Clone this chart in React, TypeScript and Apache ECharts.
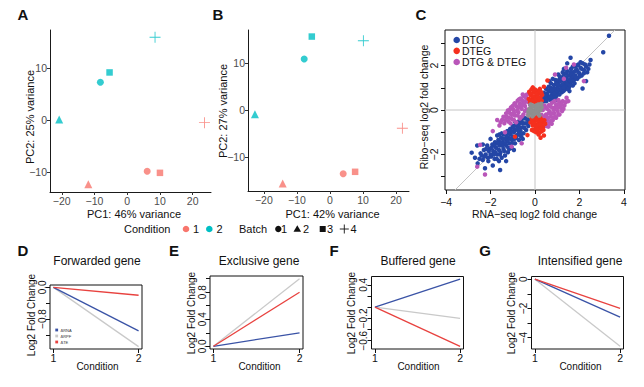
import React, { useEffect, useRef } from 'react';
import * as echarts from 'echarts';

const FONT = '"Liberation Sans", Arial, Helvetica, sans-serif';

// ---------- PCA panels (A: RNA-seq, B: Ribo-seq) ----------
const conditionColors = ['#F8766D', '#00BFC4'];
const conditionLabels = ['1', '2'];
const batchLabels = ['1', '2', '3', '4'];
const PLUS = 'path://M0,4.6H10V5.4H0ZM4.6,0H5.4V10H4.6Z';
const batchSymbols = ['circle', 'triangle', 'rect', PLUS];
const batchSizes = [7, 8, 6.5, 11];

// PC1 / PC2 scores, listed in batch order 1..4
const rnaCond1 = [[6.1, -9.9], [-11.9, -12.4], [10.0, -10.2], [23.6, -0.5]];
const rnaCond2 = [[-8.2, 7.3], [-20.8, 0.1], [-5.4, 9.2], [8.5, 16.0]];
const riboCond1 = [[4.0, -13.6], [-14.3, -15.7], [7.6, -13.2], [21.9, -3.9]];
const riboCond2 = [[-7.8, 10.9], [-22.7, -0.9], [-5.5, 15.7], [10.1, 14.8]];

const pcaXTicks = [-20, -10, 0, 10, 20];
const pcaYTicks = [-10, 0, 10];

// ---------- Panel C: RNA-seq vs Ribo-seq fold changes ----------
const cXTicks = [-4, -2, 0, 2, 4];
const cYTicks = [-3, -2, -1, 0, 1, 2, 3];
const cYLabels = [-2, 0, 2];
const diagonal = [[-3.6, -3.6], [3.6, 3.6]];
const zeroVertical = [[0, -3.6], [0, 3.6]];
const zeroHorizontal = [[-4.05, 0], [4.05, 0]];

const dtgPoints = [
  [0.25, 0.45], [0.3, 0.62], [0.35, 0.38], [0.4, 0.78], [0.45, 0.55], [0.5, 0.95], [0.52, 0.4], [0.55, 0.72],
  [0.6, 0.58], [0.62, 1.05], [0.65, 0.85], [0.7, 0.45], [0.72, 1.2], [0.75, 0.68], [0.8, 0.95], [0.82, 0.55],
  [0.85, 1.12], [0.9, 0.8], [0.92, 1.35], [0.95, 0.62], [1.0, 1.0], [1.02, 0.75], [1.05, 1.25], [1.1, 0.9],
  [1.12, 1.5], [1.15, 1.1], [1.2, 0.8], [1.22, 1.35], [1.25, 1.0], [1.3, 1.6], [1.32, 1.2], [1.35, 0.92],
  [1.4, 1.45], [1.42, 1.1], [1.45, 1.75], [1.5, 1.3], [1.52, 1.0], [1.55, 1.55], [1.6, 1.25], [1.62, 1.85],
  [1.65, 1.45], [1.7, 1.1], [1.72, 1.7], [1.75, 1.35], [1.8, 1.95], [1.82, 1.55], [1.88, 1.8], [1.9, 1.4],
  [1.95, 2.05], [2.0, 1.65], [2.05, 1.9], [2.1, 1.55], [2.15, 2.1], [2.2, 1.8], [2.3, 1.95], [2.35, 1.7],
  [2.45, 2.05], [1.6, 2.35], [1.3, 1.85], [1.05, 1.6], [0.8, 1.4], [2.14, 0.97], [2.3, 1.3], [3.33, 3.34],
  [3.07, 2.6], [1.45, 2.1], [0.98, 0.45], [1.55, 0.85], [0.65, 1.3], [1.25, 1.7],
  [0.35, 0.55], [0.45, 0.4], [0.5, 0.65], [0.55, 0.5], [0.6, 0.85], [0.68, 0.6], [0.7, 1.0], [0.78, 0.8],
  [0.8, 0.6], [0.88, 0.95], [0.9, 0.65], [0.95, 1.2], [0.98, 0.85], [1.05, 0.95], [1.08, 1.35], [1.1, 0.7],
  [1.15, 1.3], [1.18, 0.95], [1.2, 1.45], [1.25, 1.15], [1.28, 0.85], [1.35, 1.35], [1.38, 1.05], [1.4, 1.65],
  [1.45, 1.2], [1.48, 0.95], [1.5, 1.55], [1.55, 1.35], [1.58, 1.1], [1.6, 1.7], [1.65, 1.6], [1.68, 1.3],
  [1.7, 1.95], [1.75, 1.5], [1.78, 1.2], [1.8, 1.75], [1.85, 1.45], [1.9, 2.0], [1.95, 1.7], [2.0, 1.5],
  [2.05, 2.15], [2.1, 1.85], [2.2, 1.65], [2.25, 2.05], [2.4, 1.85], [2.5, 2.25], [1.0, 1.15], [0.85, 0.75],
  [0.75, 0.9], [1.3, 1.0],
  [-0.25, -0.5], [-0.3, -0.72], [-0.35, -0.4], [-0.4, -0.9], [-0.45, -0.6], [-0.5, -0.35], [-0.52, -1.05],
  [-0.55, -0.78], [-0.6, -0.5], [-0.62, -1.2], [-0.65, -0.95], [-0.7, -0.62], [-0.72, -1.35], [-0.75, -1.08],
  [-0.8, -0.75], [-0.85, -1.25], [-0.88, -0.55], [-0.9, -1.5], [-0.95, -1.0], [-1.0, -0.72], [-1.02, -1.35],
  [-1.05, -1.7], [-1.1, -1.1], [-1.12, -0.85], [-1.15, -1.5], [-1.2, -1.25], [-1.22, -1.9], [-1.25, -0.95],
  [-1.3, -1.6], [-1.32, -1.3], [-1.35, -2.05], [-1.4, -1.1], [-1.42, -1.75], [-1.45, -1.45], [-1.5, -2.15],
  [-1.52, -1.25], [-1.55, -1.9], [-1.6, -1.6], [-1.62, -2.3], [-1.65, -1.35], [-1.7, -2.0], [-1.75, -1.7],
  [-1.8, -1.45], [-1.82, -2.2], [-1.88, -1.85], [-1.92, -1.55], [-1.98, -2.1], [-2.05, -1.75], [-2.1, -2.3],
  [-2.15, -1.6], [-2.22, -2.0], [-2.3, -1.8], [-2.35, -2.25], [-2.45, -1.95], [-2.85, -1.92], [-2.58, -2.4],
  [-2.25, -2.62], [-1.57, -2.7], [-2.6, -1.6], [-1.3, -2.3], [-0.95, -1.8], [-2.0, -1.3], [-1.7, -1.15],
  [-2.7, -2.15], [-1.9, -2.5],
  [-0.3, -0.45], [-0.38, -0.6], [-0.42, -0.38], [-0.48, -0.8], [-0.55, -0.6], [-0.6, -0.35], [-0.65, -0.8],
  [-0.68, -1.1], [-0.72, -0.5], [-0.78, -0.9], [-0.82, -1.15], [-0.85, -0.65], [-0.9, -0.9], [-0.92, -1.3],
  [-0.98, -0.8], [-1.0, -1.2], [-1.05, -1.5], [-1.08, -0.95], [-1.12, -1.3], [-1.18, -1.05], [-1.2, -1.7],
  [-1.25, -1.4], [-1.28, -1.15], [-1.35, -1.5], [-1.38, -1.85], [-1.42, -1.3], [-1.48, -1.6], [-1.5, -1.05],
  [-1.55, -1.45], [-1.58, -2.0], [-1.62, -1.8], [-1.68, -1.5], [-1.72, -2.2], [-1.78, -1.9], [-1.82, -1.6],
  [-1.85, -2.0], [-1.95, -1.7], [-2.0, -2.0], [-2.08, -1.85], [-2.12, -2.15], [-2.2, -1.75], [-2.28, -2.1],
  [-2.4, -2.05], [-2.5, -2.2], [-0.55, -1.3], [-1.6, -1.1], [-2.35, -1.55], [-1.15, -1.75],
];

const dtegPoints = [
  [-0.22, 0.35], [-0.12, 0.5], [-0.02, 0.36], [0.08, 0.46], [0.18, 0.38], [-0.18, 0.65], [-0.06, 0.78],
  [0.04, 0.62], [0.14, 0.72], [0.24, 0.56], [0.3, 0.42], [-0.28, 0.5], [0.0, 0.92], [-0.1, 1.02], [0.1, 0.86],
  [0.32, 0.68], [0.56, 1.33], [0.4, 1.05], [-0.26, 0.82], [-0.16, 0.92], [0.22, 0.95], [-0.05, 0.45],
  [-0.2, 0.45], [-0.08, 0.6], [0.02, 0.48], [0.12, 0.58], [0.2, 0.48], [-0.22, 0.75], [0.06, 0.74],
  [0.2, 0.82], [-0.04, 0.88], [0.28, 0.8], [-0.12, 0.4], [0.12, 0.35],
  [-0.16, -0.36], [-0.05, -0.5], [0.05, -0.32], [0.15, -0.46], [0.25, -0.36], [0.32, -0.56], [-0.1, -0.7],
  [0.0, -0.86], [0.1, -0.66], [0.2, -0.8], [0.36, -0.76], [0.42, -0.46], [-0.2, -0.56], [0.05, -1.0],
  [0.16, -1.1], [0.3, -0.96], [-0.14, -0.9], [0.46, -0.62], [-0.34, -1.13], [-0.9, -1.2], [0.25, -1.25],
  [0.4, -1.15], [-0.02, -0.62], [0.12, -0.5],
  [-0.12, -0.45], [-0.02, -0.38], [0.08, -0.4], [0.18, -0.55], [0.28, -0.45], [-0.06, -0.6], [0.05, -0.75],
  [0.15, -0.68], [0.25, -0.65], [0.3, -0.82], [-0.05, -0.95], [0.1, -0.9], [0.22, -1.0], [0.38, -0.9],
];

const bothPoints = [
  [-0.22, 0.22], [-0.32, 0.36], [-0.4, 0.55], [-0.45, 0.18], [-0.55, 0.4], [-0.6, 0.05], [-0.68, 0.28],
  [-0.75, -0.1], [-0.82, 0.15], [-0.9, -0.25], [-0.98, 0.02], [-1.05, -0.4], [-1.12, -0.15], [-1.2, -0.52],
  [-1.28, -0.3], [-1.38, -0.6], [-1.48, -0.45], [-0.36, 0.7], [-0.5, 0.62], [-0.65, 0.52], [-0.78, 0.42],
  [-0.92, 0.3], [-1.08, 0.12], [-1.22, -0.02], [-1.6, -0.7], [-1.7, -0.45], [-0.38, 0.02], [-0.52, -0.2],
  [-0.68, -0.38], [-0.85, -0.55], [-0.3, -0.18],
  [-0.25, 0.4], [-0.42, 0.4], [-0.5, 0.3], [-0.6, 0.45], [-0.62, 0.2], [-0.72, 0.12], [-0.72, 0.48],
  [-0.8, -0.02], [-0.88, 0.28], [-0.95, -0.12], [-1.0, 0.18], [-1.05, -0.22], [-1.15, 0.0], [-1.18, -0.35],
  [-1.3, -0.15], [-1.32, -0.45], [-1.42, -0.3], [-1.55, -0.55], [-0.45, -0.05], [-0.6, -0.3], [-0.78, -0.25],
  [-0.95, -0.45], [-1.1, -0.6], [-0.55, 0.7],
  [0.22, -0.5], [0.3, -0.22], [0.4, -0.6], [0.5, -0.2], [0.55, -0.45], [0.65, -0.05], [0.72, -0.3],
  [0.8, 0.1], [0.86, -0.15], [0.95, 0.25], [1.02, -0.05], [1.1, 0.35], [1.16, 0.1], [1.25, 0.4], [1.32, 0.2],
  [0.36, -0.78], [0.52, -0.72], [0.66, -0.6], [0.8, -0.45], [0.95, -0.35], [1.1, -0.2], [1.22, -0.05],
  [0.35, 0.0], [0.48, 0.12], [0.62, 0.22], [0.76, 0.32], [1.42, 0.55],
  [0.25, -0.35], [0.38, -0.45], [0.45, -0.3], [0.48, -0.55], [0.6, -0.35], [0.62, -0.15], [0.7, -0.5],
  [0.75, -0.15], [0.85, 0.0], [0.9, -0.3], [0.92, 0.12], [1.0, 0.1], [1.05, -0.2], [1.12, 0.22], [1.2, 0.25],
  [1.28, 0.05], [1.38, 0.35], [1.5, 0.4], [0.42, 0.2], [0.55, 0.05], [0.7, 0.15], [0.88, 0.4], [1.05, 0.45],
  [0.6, -0.75], [0.75, -0.62],
  [-2.25, -2.9], [-2.47, -1.57], [-1.05, -1.65], [-1.9, -0.95], [-2.6, -2.55], [1.4, 1.9], [2.2, 1.3],
  [1.75, 2.05], [-0.6, -1.5], [1.3, 1.4], [0.9, 1.6], [-1.35, -1.0],
];

const unchangedPoints = [
  [0, 0], [0.1, 0.05], [-0.1, -0.05], [0.15, -0.1], [-0.15, 0.1], [0.05, 0.2], [-0.05, -0.2], [0.2, 0.15],
  [-0.2, -0.15], [0.25, 0.0], [-0.25, 0.05], [0.0, 0.15], [0.1, -0.15], [-0.1, 0.2], [0.28, 0.28],
  [-0.3, -0.25], [0.2, -0.25], [-0.2, 0.25], [0.05, -0.05], [0.15, 0.25], [-0.12, -0.28], [0.3, 0.12],
  [-0.3, -0.08], [0.08, 0.1], [-0.08, -0.1], [0.18, 0.05], [-0.18, -0.05], [0.12, 0.2],
];

const cGroups = ['DTG', 'DTEG', 'DTG & DTEG'];
const cColors = ['#2446a6', '#f5301e', '#b956b9', '#8f8f8f'];

// ---------- Panels D-G: gene regulation schematics ----------
const geneTitles = ['Forwarded gene', 'Exclusive gene', 'Buffered gene', 'Intensified gene'];
const conditionSteps = [1, 2];
const deltaRNA = [-1.1, 0.2, 0.5, -2.6];
const deltaRPF = [-1.5, 1.0, -0.2, -4.6];
const deltaTE = [-0.2, 0.8, -0.7, -2.0];
const deltaNames = ['ΔRNA', 'ΔRPF', 'ΔTE'];
const deltaColors = ['#3a53a6', '#c9c9c9', '#e8423f'];
const geneYTicks = [
  [-1.2, -0.8, -0.4, 0],
  [0, 0.2, 0.4, 0.6, 0.8, 1.0],
  [-0.6, -0.4, -0.2, 0, 0.2, 0.4],
  [-4, -3, -2, -1, 0],
];
const geneYLabels = [[-0.8, 0], [0, 0.4, 0.8], [-0.6, -0.2, 0.4], [-4, -2, 0]];
const geneYDigits = [1, 1, 1, 0];

const minus = (s: string) => s.replace('-', '\u2212');

function buildOption() {
  const boxed = { show: true, borderColor: '#111', borderWidth: 1, backgroundColor: 'transparent' };
  const grids: any[] = [
    { left: 50, top: 30, width: 161, height: 162 },
    { left: 248, top: 30, width: 161, height: 161 },
    { left: 445, top: 30, width: 180, height: 160, ...boxed },
    { left: 50, top: 285, width: 92, height: 64, ...boxed },
    { left: 210, top: 276, width: 93, height: 73, ...boxed },
    { left: 371.5, top: 276.5, width: 92, height: 72.5, ...boxed },
    { left: 531.5, top: 276.5, width: 92, height: 72.5, ...boxed },
  ];

  const pcaAxis = (gridIndex: number, min: number, max: number, ticks: number[]) => ({
    type: 'value', gridIndex, min, max,
    axisLine: { show: true, onZero: false, lineStyle: { color: '#1a1a1a', width: 1 } },
    axisTick: { show: true, length: 3, customValues: ticks, lineStyle: { color: '#333' } },
    axisLabel: {
      customValues: ticks, color: '#4d4d4d', fontSize: 10.5, fontFamily: FONT, margin: 3,
      formatter: (v: number) => minus(String(v)),
    },
    splitLine: { show: false },
  });

  const boxAxis = (gridIndex: number, min: number, max: number, ticks: number[], labels: number[],
    fmt: (v: number) => string, rotate: number, margin: number, size: number) => ({
    type: 'value', gridIndex, min, max,
    axisLine: { show: false, onZero: false },
    axisTick: { show: true, length: 4, customValues: ticks, lineStyle: { color: '#111' } },
    axisLabel: { customValues: labels, color: '#111', fontSize: size, fontFamily: FONT, margin, rotate, formatter: fmt },
    splitLine: { show: false },
  });

  const xAxes: any[] = [
    pcaAxis(0, -23.6, 25.6, pcaXTicks),
    pcaAxis(1, -24.8, 23.9, pcaXTicks),
    boxAxis(2, -4.05, 4.05, cXTicks, cXTicks, (v) => minus(String(v)), 0, 6, 10.5),
  ];
  const yAxes: any[] = [
    pcaAxis(0, -13.9, 17.4, pcaYTicks),
    pcaAxis(1, -17.3, 17.1, pcaYTicks),
    boxAxis(2, -3.6, 3.6, cYTicks, cYLabels, (v) => minus(String(v)), 90, 6, 10.5),
  ];

  geneTitles.forEach((_, i) => {
    const all = [0, deltaRNA[i], deltaRPF[i], deltaTE[i]];
    const lo = Math.min(...all);
    const hi = Math.max(...all);
    const pad = (hi - lo) * 0.04;
    xAxes.push(boxAxis(3 + i, 0.96, 2.04, conditionSteps, conditionSteps, (v) => String(v), 0, 3, 10.5));
    yAxes.push(boxAxis(3 + i, lo - pad, hi + pad, geneYTicks[i], geneYLabels[i],
      (v) => minus(v.toFixed(geneYDigits[i])), 90, 3, 10));
  });

  const pcaSeries = (idx: number, cond: number[][], color: string) => ({
    type: 'scatter', xAxisIndex: idx, yAxisIndex: idx,
    itemStyle: { color },
    data: cond.map((p, b) => ({ value: p, symbol: batchSymbols[b], symbolSize: batchSizes[b] })),
  });

  const scatterC = (name: string, pts: number[][], color: string) => ({
    name, type: 'scatter', xAxisIndex: 2, yAxisIndex: 2, symbolSize: 4.5, z: 3,
    itemStyle: { color, opacity: 1 }, data: pts,
  });

  const guideC = (pts: number[][]) => ({
    type: 'line', xAxisIndex: 2, yAxisIndex: 2, data: pts, symbol: 'none', z: 1, silent: true,
    lineStyle: { color: '#c4c4c4', width: 1 },
  });

  const series: any[] = [
    pcaSeries(0, rnaCond1, conditionColors[0]),
    pcaSeries(0, rnaCond2, conditionColors[1]),
    pcaSeries(1, riboCond1, conditionColors[0]),
    pcaSeries(1, riboCond2, conditionColors[1]),
    guideC(diagonal),
    guideC(zeroVertical),
    guideC(zeroHorizontal),
    scatterC(cGroups[0], dtgPoints, cColors[0]),
    scatterC(cGroups[2], bothPoints, cColors[2]),
    scatterC(cGroups[1], dtegPoints, cColors[1]),
    scatterC('unchanged', unchangedPoints, cColors[3]),
  ];

  // draw RPF first so the RNA and TE lines sit on top
  const order = [1, 0, 2];
  geneTitles.forEach((_, i) => {
    const ends = [deltaRNA[i], deltaRPF[i], deltaTE[i]];
    order.forEach((k) => {
      series.push({
        type: 'line', xAxisIndex: 3 + i, yAxisIndex: 3 + i, symbol: 'none',
        lineStyle: { color: deltaColors[k], width: 1.3 },
        data: conditionSteps.map((c, j) => [c, j === 0 ? 0 : ends[k]]),
      });
    });
  });

  const txt = (text: string, x: number, y: number, size: number, opts: any = {}) => ({
    type: 'text', x, y, rotation: opts.rotation || 0,
    style: {
      text, fontSize: size, fontFamily: FONT, fontWeight: opts.bold ? 'bold' : 'normal',
      fill: opts.color || '#111',
      align: opts.align || 'center', textAlign: opts.align || 'center',
      verticalAlign: 'middle', textVerticalAlign: 'middle',
    },
  });
  const V = Math.PI / 2;

  const graphics: any[] = [
    // panel letters
    txt('A', 23, 14, 15, { bold: true }), txt('B', 218, 14, 15, { bold: true }),
    txt('C', 421, 14, 15, { bold: true }), txt('D', 23, 250, 15, { bold: true }),
    txt('E', 174, 250, 15, { bold: true }), txt('F', 334, 250, 15, { bold: true }),
    txt('G', 485, 250, 15, { bold: true }),
    // PCA axis titles
    txt('PC2: 25% variance', 30, 117, 11, { rotation: V }),
    txt('PC1: 46% variance', 134, 214, 11),
    txt('PC2: 27% variance', 223, 111, 11, { rotation: V }),
    txt('PC1: 42% variance', 332.5, 214, 11),
    // panel C axis titles
    txt('Ribo\u2212seq log2 fold change', 424, 107, 10.5, { rotation: V }),
    txt('RNA\u2212seq log2 fold change', 534.5, 213.5, 10.5),
  ];

  // PCA legend row
  const ly = 229;
  graphics.push(txt('Condition', 124, ly, 11, { align: 'left' }));
  const condDotX = [186, 209.3];
  const condTextX = [193, 216.5];
  conditionLabels.forEach((l, i) => {
    graphics.push({ type: 'circle', shape: { cx: condDotX[i], cy: ly, r: 3.3 }, style: { fill: conditionColors[i] } });
    graphics.push(txt(l, condTextX[i], ly, 11, { align: 'left' }));
  });
  graphics.push(txt('Batch', 239, ly, 11, { align: 'left' }));
  const bx = [278.3, 297.3, 322.7, 344.3];
  const btx = [281, 303, 327, 350.5];
  graphics.push({ type: 'circle', shape: { cx: bx[0], cy: ly, r: 3.2 }, style: { fill: '#111' } });
  graphics.push({
    type: 'polygon', shape: { points: [[bx[1], ly - 3.8], [bx[1] + 3.8, ly + 2.8], [bx[1] - 3.8, ly + 2.8]] },
    style: { fill: '#111' },
  });
  graphics.push({ type: 'rect', shape: { x: bx[2] - 3, y: ly - 3, width: 6, height: 6 }, style: { fill: '#111' } });
  graphics.push({ type: 'line', shape: { x1: bx[3] - 4.5, y1: ly, x2: bx[3] + 4.5, y2: ly }, style: { stroke: '#111', lineWidth: 0.9 } });
  graphics.push({ type: 'line', shape: { x1: bx[3], y1: ly - 4.5, x2: bx[3], y2: ly + 4.5 }, style: { stroke: '#111', lineWidth: 0.9 } });
  batchLabels.forEach((l, i) => graphics.push(txt(l, btx[i], ly, 11, { align: 'left' })));

  // panel C legend
  const cly = [40, 50.8, 62];
  cGroups.forEach((g, i) => {
    graphics.push({ type: 'circle', shape: { cx: 456.7, cy: cly[i], r: 3.3 }, style: { fill: cColors[i] } });
    graphics.push(txt(g, 462, cly[i], 10.5, { align: 'left' }));
  });

  // panels D-G titles and axis titles
  const titleX = [97, 259, 418, 580];
  const ylabX = [31.5, 191.7, 351.7, 511.7];
  const ylabY = [315, 313, 313, 313];
  geneTitles.forEach((t, i) => {
    graphics.push(txt(t, titleX[i], 261, 12));
    graphics.push(txt('Log2 Fold Change', ylabX[i], ylabY[i], 10, { rotation: V }));
    graphics.push(txt('Condition', titleX[i] + 0.5, 366, 10));
  });

  // tiny legend inside panel D
  const dly = [330, 336, 342];
  [0, 1, 2].forEach((k, i) => {
    graphics.push({ type: 'rect', shape: { x: 55.3, y: dly[i] - 1.4, width: 2.8, height: 2.8 }, style: { fill: deltaColors[k] } });
    graphics.push(txt(deltaNames[k], 60.5, dly[i], 4, { align: 'left', color: '#333' }));
  });

  return {
    animation: false,
    backgroundColor: '#ffffff',
    grid: grids,
    xAxis: xAxes,
    yAxis: yAxes,
    series,
    graphic: { elements: graphics },
  };
}

export default function App() {
  const ref = useRef<HTMLDivElement>(null);
  useEffect(() => {
    document.body.style.margin = '0';
    const chart = echarts.init(ref.current as HTMLDivElement, null, { renderer: 'svg' });
    chart.setOption(buildOption() as any);
    return () => chart.dispose();
  }, []);
  return <div ref={ref} style={{ width: 644, height: 387 }} />;
}
